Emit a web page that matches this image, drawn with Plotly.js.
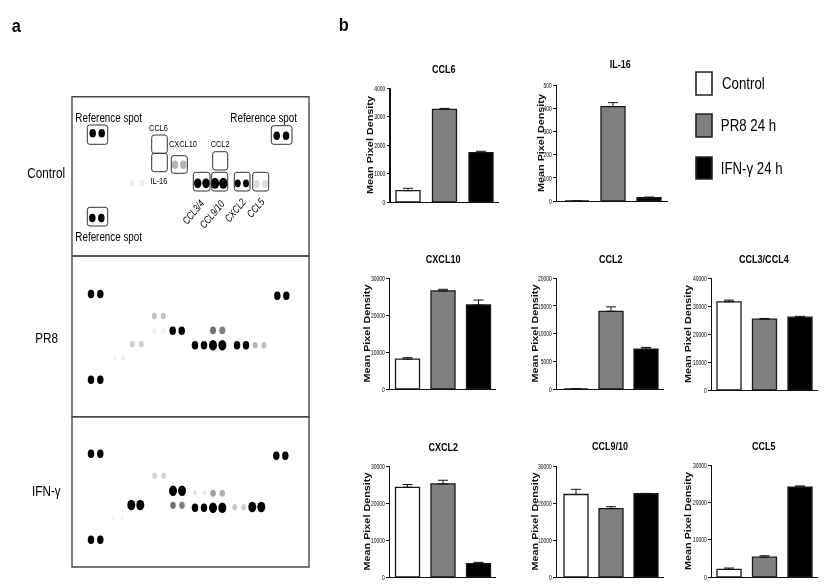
<!DOCTYPE html>
<html>
<head>
<meta charset="utf-8">
<script src="https://cdn.plot.ly/plotly-3.0.1.min.js"></script>
<style>html,body{margin:0;padding:0;background:#fff}#chart{width:827px;height:588px;filter:blur(0.4px)}</style>
</head>
<body>
<div id="chart"></div>
<script>
// ---------- bar chart data ----------
const conditions = ['Control', 'PR8 24 h', 'IFN-γ 24 h'];
const barColors = ['#ffffff', '#808080', '#000000'];
const ccl6Values = [400, 3250, 1735];
const ccl6Errors = [80, 35, 45];
const il16Values = [0, 407, 14];
const il16Errors = [0, 17, 3];
const cxcl10Values = [8100, 26500, 22700];
const cxcl10Errors = [350, 450, 1350];
const ccl2Values = [0, 14000, 7200];
const ccl2Errors = [0, 800, 300];
const ccl34Values = [31500, 25300, 26000];
const ccl34Errors = [600, 250, 300];
const cxcl2Values = [24250, 25150, 3600];
const cxcl2Errors = [750, 1000, 350];
const ccl910Values = [22300, 18500, 22500];
const ccl910Errors = [1400, 500, 100];
const ccl5Values = [2050, 5300, 24100];
const ccl5Errors = [350, 400, 300];

// ---------- dot blot data (spot pairs) ----------
const blotX = [
  92.7,101.7,276.7,286,92.3,101.3,131.7,141.7,175,183.3,197.7,206,215,223.3,237.7,246,256.7,265,
  91,100.3,277.3,286.3,91,100.3,154.3,163.3,154.3,163.3,172.7,181.7,213,222.3,132.3,141.3,195,204,213,222.3,237,246,255,264,115,123.3,
  91,100.3,276.3,285.3,91,100.3,154.7,163.7,173,182,195,204.3,213,222.3,131.3,140.3,173,182,195,204,213,222.3,234.7,243.7,252.3,261.3,113.3,122.3
];
const blotY = [
  133.3,133.3,135.7,135.7,218,218,183.3,183.3,164.7,164.7,183.3,183.3,183.3,183.3,183.3,183.3,184,184,
  294,294,295.7,295.7,379.7,379.7,316,316,330.7,330.7,330.7,330.7,330.3,330.3,344.3,344.3,345.3,345.3,345.3,345.3,345.3,345.3,345.3,345.3,358.5,358.5,
  453.7,453.7,455.7,455.7,539.7,539.7,475.7,475.7,490.7,490.7,492.7,492.7,493.3,493.3,505,505,505.3,505.3,507.7,507.7,507.7,507.7,507.3,507.3,507,507,518.7,518.7
];
const blotShade = [
  '#000','#000','#000','#000','#000','#000','#ececec','#ececec','#b4b4b4','#b4b4b4','#000','#000','#000','#000','#000','#000','#ddd','#ddd',
  '#000','#000','#000','#000','#000','#000','#c4c4c4','#c4c4c4','#f2f2f2','#f2f2f2','#000','#000','#707070','#808080','#d0d0d0','#d0d0d0','#000','#000','#000','#000','#000','#000','#b4b4b4','#c0c0c0','#f2f2f2','#f0f0f0',
  '#000','#000','#000','#000','#000','#000','#d8d8d8','#d8d8d8','#000','#000','#e4e4e4','#e8e8e8','#a0a0a0','#b0b0b0','#000','#000','#707070','#808080','#000','#000','#000','#000','#c8c8c8','#d0d0d0','#000','#000','#f2f2f2','#f2f2f2'
];
const blotSize = [
  6.5,6.5,6.5,6.5,6.5,6.5,5,5,6.5,6.5,7.5,7.5,8.5,8.5,6,6,6,6,
  6.5,6.5,6.5,6.5,6.5,6.5,5,5,5,5,6.5,6.5,6,6,5,5,6.5,6.5,8,8,6.5,6.5,5,5,4,4,
  6.5,6.5,6.5,6.5,6.5,6.5,5,5,8,8,4,4,5.5,5.5,8,8,5.5,5.5,6.5,6.5,8,8,5,5,8,8,3.5,3.5
];

// ---------- page geometry ----------
const W = 827, H = 588;
const font = 'Liberation Sans, Arial, sans-serif';

const panels = [
  {t:'CCL6', v:ccl6Values, e:ccl6Errors, max:4000, d:1000, l:390.5, r:499, top:88, bot:202, c0:408, s:36.5, tx:444, ty:69, ytx:370},
  {t:'IL-16', v:il16Values, e:il16Errors, max:500, d:100, l:557, r:668, top:85, bot:201, c0:577, s:36, tx:620, ty:64, ytx:540.7},
  {t:'CXCL10', v:cxcl10Values, e:cxcl10Errors, max:30000, d:10000, l:390, r:496, top:278, bot:389, c0:407.5, s:35.5, tx:443, ty:259, ytx:367},
  {t:'CCL2', v:ccl2Values, e:ccl2Errors, max:20000, d:5000, l:557, r:664, top:278, bot:389, c0:576, s:35, tx:611, ty:259, ytx:535},
  {t:'CCL3/CCL4', v:ccl34Values, e:ccl34Errors, max:40000, d:10000, l:712, r:818, top:278, bot:390, c0:729, s:35.5, tx:764, ty:259, ytx:688},
  {t:'CXCL2', v:cxcl2Values, e:cxcl2Errors, max:30000, d:10000, l:390, r:496, top:466, bot:577, c0:407.5, s:35.5, tx:443, ty:447, ytx:367},
  {t:'CCL9/10', v:ccl910Values, e:ccl910Errors, max:30000, d:10000, l:557, r:664, top:466, bot:577, c0:576, s:35, tx:610, ty:446, ytx:535},
  {t:'CCL5', v:ccl5Values, e:ccl5Errors, max:30000, d:10000, l:712, r:818, top:465, bot:577, c0:729, s:35.5, tx:764, ty:446, ytx:688}
];

const data = [], annotations = [], shapes = [];
const layout = {
  width: W, height: H, margin: {l:0, r:0, t:0, b:0, pad:0},
  paper_bgcolor: '#fff', plot_bgcolor: 'rgba(0,0,0,0)', showlegend: false,
  font: {family: font, color: '#000'}, bargap: 0.33
};

function note(text, x, y, size, opts) {
  annotations.push(Object.assign({
    text: text, x: x, y: y, xref: 'x9', yref: 'y9', showarrow: false,
    xanchor: 'center', yanchor: 'middle',
    font: {family: font, size: size, color: '#000'}
  }, opts || {}));
}

panels.forEach((p, i) => {
  const n = i + 1, xk = n === 1 ? 'xaxis' : 'xaxis' + n, yk = n === 1 ? 'yaxis' : 'yaxis' + n;
  layout[xk] = {
    domain: [p.l / W, p.r / W], anchor: n === 1 ? 'y' : 'y' + n, type: 'category',
    categoryorder: 'array', categoryarray: conditions,
    range: [(p.l - p.c0) / p.s, (p.r - p.c0) / p.s],
    showticklabels: false, ticks: '', showline: true, linecolor: '#111', linewidth: 1.2,
    showgrid: false, zeroline: false, fixedrange: true
  };
  layout[yk] = {
    domain: [1 - p.bot / H, 1 - p.top / H], anchor: n === 1 ? 'x' : 'x' + n,
    range: [0, p.max], dtick: p.d, tick0: 0, ticks: 'outside', ticklen: 2.5, tickwidth: 1, tickcolor: '#111',
    showline: true, linecolor: '#111', linewidth: 1.2, showgrid: false, zeroline: false, fixedrange: true,
    tickfont: {family: font, size: 8, color: '#000'}, tickformat: 'd',
    title: {text: 'Mean Pixel Density', standoff: 3, font: {family: font, size: 9, color: '#111', weight: 700}}
  };
  data.push({
    type: 'bar', x: conditions, y: p.v, name: p.t,
    xaxis: n === 1 ? 'x' : 'x' + n, yaxis: n === 1 ? 'y' : 'y' + n, width: 24 / p.s,
    marker: {color: barColors, line: {color: '#1a1a1a', width: 1.3}},
    error_y: {type: 'data', symmetric: false, array: p.e, arrayminus: [0,0,0], color: '#111', thickness: 1, width: 5},
    hoverinfo: 'skip'
  });
  note('<b>' + p.t + '</b>', p.tx, p.ty, 10.5);
});

layout.xaxis9 = {domain: [0,1], range: [0,W], anchor: 'y9', visible: false, fixedrange: true};
layout.yaxis9 = {domain: [0,1], range: [H,0], anchor: 'x9', visible: false, fixedrange: true};

data.push({
  type: 'scatter', mode: 'markers', x: blotX, y: blotY, xaxis: 'x9', yaxis: 'y9', name: 'spots',
  marker: {color: blotShade, size: blotSize, opacity: 1, line: {width: 0}}, hoverinfo: 'skip'
});

// membrane frames
[[72,96.7,309,256],[72,256,309,416.7],[72,416.7,309,567]].forEach(f => {
  shapes.push({type:'rect', xref:'x9', yref:'y9', x0:f[0], y0:f[1], x1:f[2], y1:f[3], line:{color:'#4a4a4a', width:1.4}});
});
// rounded call-out boxes around spots
function rbox(x0,y0,x1,y1,color) {
  const r = 2.5;
  shapes.push({type:'path', xref:'x9', yref:'y9', line:{color:color||'#333', width:1},
    path:`M${x0+r},${y0} L${x1-r},${y0} Q${x1},${y0} ${x1},${y0+r} L${x1},${y1-r} Q${x1},${y1} ${x1-r},${y1} L${x0+r},${y1} Q${x0},${y1} ${x0},${y1-r} L${x0},${y0+r} Q${x0},${y0} ${x0+r},${y0} Z`});
}
rbox(87.3,125,107.7,144.3); rbox(271.3,125.7,292,144.3); rbox(87.3,207.3,107.7,226);
rbox(151.7,135,167.3,153.3); rbox(151.7,153.3,167.3,171.7);
rbox(171.3,155.7,187.3,173.3); rbox(212.7,151.7,227.7,170);
rbox(193.3,172.3,210,191); rbox(211.7,172.3,227.7,191); rbox(234.3,172.3,250,191); rbox(252.7,172.3,268.7,191);

// legend
const legendY = [[72,95],[114,137],[157,179]];
const legendTextX = [743, 748, 751.5];
conditions.forEach((c,i) => {
  shapes.push({type:'rect', xref:'x9', yref:'y9', x0:696, x1:712, y0:legendY[i][0], y1:legendY[i][1],
    fillcolor:barColors[i], line:{color:'#222', width:1.6}});
  note(c, legendTextX[i], (legendY[i][0]+legendY[i][1])/2, 17);
});

// labels
note('<b>a</b>', 16, 25, 19);
note('<b>b</b>', 344, 24, 19);
note('Control', 46, 172, 15);
note('PR8', 46, 337, 15);
note('IFN-γ', 46, 490, 15);
note('Reference spot', 109, 117.5, 12);
note('Reference spot', 264, 117.5, 12);
note('Reference spot', 109, 236.7, 12);
note('CCL6', 158.7, 127.5, 9);
note('CXCL10', 183, 143, 9.5);
note('IL-16', 159, 180, 9.5);
note('CCL2', 220, 143, 9.5);
[['CCL3/4',192.7,211.7],['CCL9/10',211.7,214],['CXCL2',235,210],['CCL5',255,208]].forEach(a => {
  note('<i>'+a[0]+'</i>', a[1], a[2], 10.5, {textangle:-50});
});

layout.annotations = annotations;
layout.shapes = shapes;

// The original lettering is a condensed face; no condensed font is installed,
// so the installed face is squeezed to the original's width.
function squeeze(el, factor) {
  el.setAttribute('textLength', (el.getComputedTextLength() * factor).toFixed(2));
  el.setAttribute('lengthAdjust', 'spacingAndGlyphs');
}

Plotly.newPlot('chart', data, layout, {staticPlot:true, displayModeBar:false}).then(() => {
  const root = document.getElementById('chart');
  root.querySelectorAll('.scatterlayer .trace path.point').forEach(pt => {
    pt.setAttribute('transform', pt.getAttribute('transform') + ' scale(1,1.3)');
  });
  root.querySelectorAll('.annotation-text').forEach(el => {
    const s = el.textContent;
    const bold = el.innerHTML.indexOf('font-weight') >= 0 || el.innerHTML.indexOf('<b') >= 0;
    const f = s === 'Reference spot' ? 0.82 : (s === 'CCL6' && !bold) ? 0.82 : bold ? 0.86 : 0.78;
    squeeze(el, f);
  });
  panels.forEach((p, i) => {
    const tag = i === 0 ? 'y' : 'y' + (i + 1);
    root.querySelectorAll('.' + tag + 'tick text').forEach(el => squeeze(el, 0.62));
    const el = root.querySelector('.g-' + tag + 'title text');
    if (!el) return;
    el.setAttribute('textLength', '98');
    el.setAttribute('lengthAdjust', 'spacingAndGlyphs');
    const box = el.getBoundingClientRect();
    const dx = p.ytx - (box.left + box.width / 2);
    el.setAttribute('transform', 'translate(' + dx.toFixed(2) + ',0) ' + (el.getAttribute('transform') || ''));
  });
});
</script>
</body>
</html>
